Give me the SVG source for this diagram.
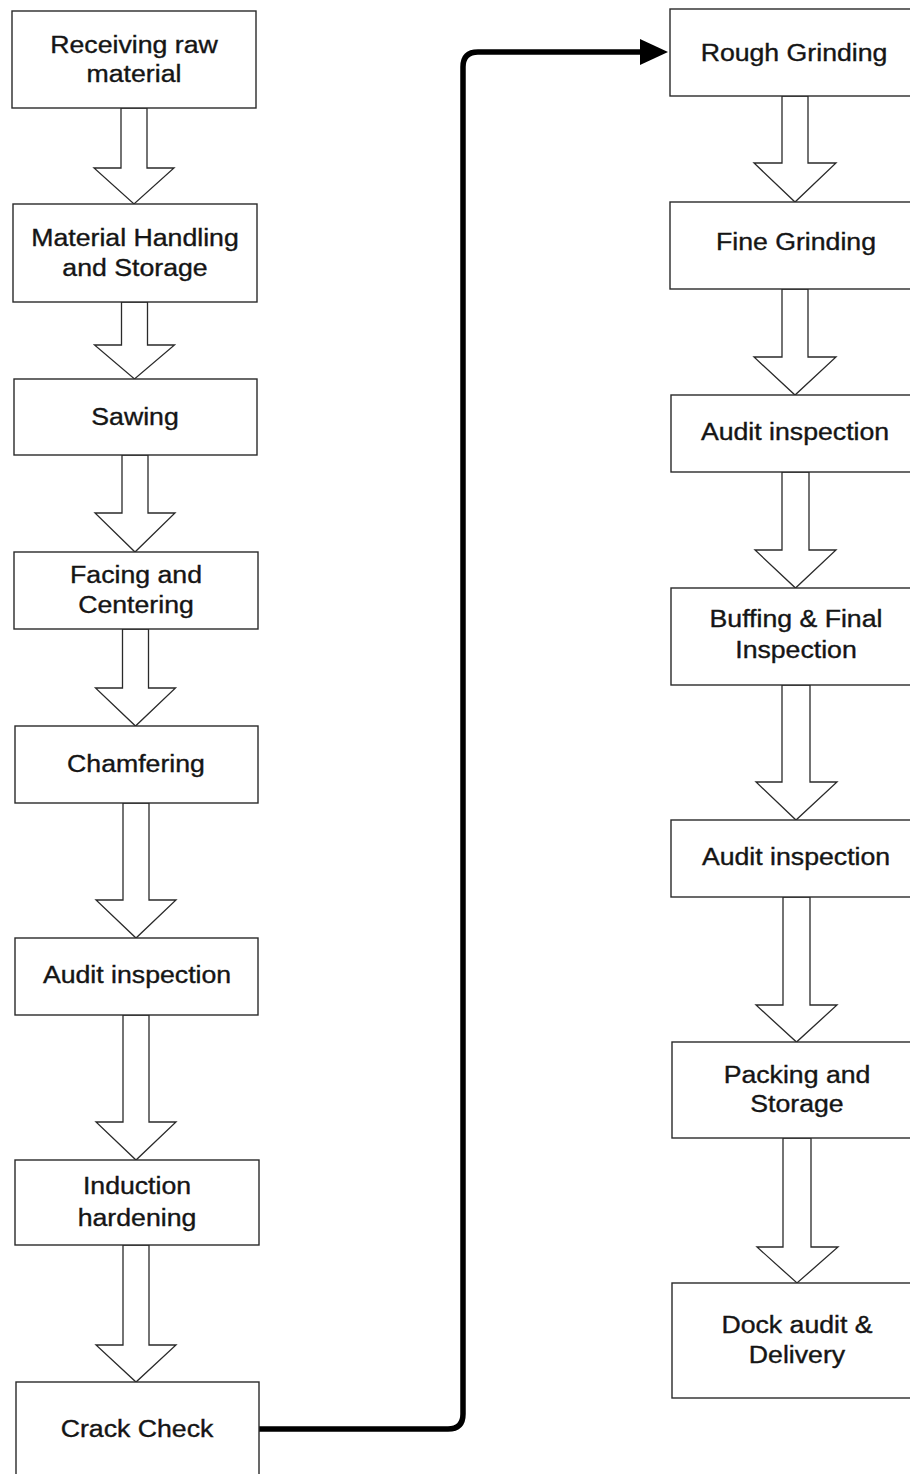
<svg xmlns="http://www.w3.org/2000/svg" width="910" height="1474" viewBox="0 0 910 1474">
<style>
.box{fill:#ffffff;stroke:#2a2a2a;stroke-width:1.4}
.blk{fill:#ffffff;stroke:#2a2a2a;stroke-width:1.3;stroke-linejoin:miter}
.t{font-family:"Liberation Sans",Arial,sans-serif;font-size:23px;fill:#151515;stroke:#151515;stroke-width:0.35;text-anchor:middle}
.conn{fill:none;stroke:#000;stroke-width:5.5}
</style>
<defs>
<marker id="ah" viewBox="0 0 28 26" refX="2" refY="13" markerWidth="28" markerHeight="26" markerUnits="userSpaceOnUse" orient="auto">
<path d="M0,0 L28,13 L0,26 z" fill="#000"/>
</marker>
</defs>
<rect width="910" height="1474" fill="#ffffff"/>

<g id="connectors">
<polygon class="blk" points="121,108 147,108 147,168 174,168 134,204 94,168 121,168"/>
<polygon class="blk" points="121.5,302 147.5,302 147.5,345 174.5,345 134.5,379 94.5,345 121.5,345"/>
<polygon class="blk" points="122,455 148,455 148,513 175,513 135,552 95,513 122,513"/>
<polygon class="blk" points="122.5,629 148.5,629 148.5,688 175.5,688 135.5,726 95.5,688 122.5,688"/>
<polygon class="blk" points="123,803 149,803 149,900 176,900 136,938 96,900 123,900"/>
<polygon class="blk" points="123,1015 149,1015 149,1122 176,1122 136,1160 96,1122 123,1122"/>
<polygon class="blk" points="123,1245 149,1245 149,1345 176,1345 136,1382 96,1345 123,1345"/>

<polygon class="blk" points="782,96 808,96 808,163 836,163 795,202 754,163 782,163"/>
<polygon class="blk" points="782,289 808,289 808,357 836,357 795,395 754,357 782,357"/>
<polygon class="blk" points="782,472 809,472 809,550 836,550 795.5,588 755,550 782,550"/>
<polygon class="blk" points="782,685 810,685 810,782 837,782 796,820 756,782 782,782"/>
<polygon class="blk" points="783,897 810,897 810,1005 837,1005 796.5,1042 756,1005 783,1005"/>
<polygon class="blk" points="783,1138 811,1138 811,1247 838,1247 797,1283 757,1247 783,1247"/>

<path class="conn" d="M259,1429 H448 Q463,1429 463,1414 V67 Q463,52 478,52 H642" marker-end="url(#ah)"/>
</g>

<g id="n1"><rect class="box" x="12" y="11" width="244" height="97"/>
<text class="t" transform="translate(134,53) scale(1.16,1)">Receiving raw</text>
<text class="t" transform="translate(134,82) scale(1.16,1)">material</text></g>
<g id="n2"><rect class="box" x="13" y="204" width="244" height="98"/>
<text class="t" transform="translate(135,246) scale(1.16,1)">Material Handling</text>
<text class="t" transform="translate(135,276) scale(1.16,1)">and Storage</text></g>
<g id="n3"><rect class="box" x="14" y="379" width="243" height="76"/>
<text class="t" transform="translate(135,425) scale(1.16,1)">Sawing</text></g>
<g id="n4"><rect class="box" x="14" y="552" width="244" height="77"/>
<text class="t" transform="translate(136,583) scale(1.16,1)">Facing and</text>
<text class="t" transform="translate(136,613) scale(1.16,1)">Centering</text></g>
<g id="n5"><rect class="box" x="15" y="726" width="243" height="77"/>
<text class="t" transform="translate(136,772) scale(1.16,1)">Chamfering</text></g>
<g id="n6"><rect class="box" x="15" y="938" width="243" height="77"/>
<text class="t" transform="translate(137,983) scale(1.16,1)">Audit inspection</text></g>
<g id="n7"><rect class="box" x="15" y="1160" width="244" height="85"/>
<text class="t" transform="translate(137,1194) scale(1.16,1)">Induction</text>
<text class="t" transform="translate(137,1226) scale(1.16,1)">hardening</text></g>
<g id="n8"><rect class="box" x="16" y="1382" width="243" height="100"/>
<text class="t" transform="translate(137,1437) scale(1.16,1)">Crack Check</text></g>

<g id="n9"><rect class="box" x="670" y="9" width="250" height="87"/>
<text class="t" transform="translate(794,61) scale(1.16,1)">Rough Grinding</text></g>
<g id="n10"><rect class="box" x="670" y="202" width="250" height="87"/>
<text class="t" transform="translate(796,250) scale(1.16,1)">Fine Grinding</text></g>
<g id="n11"><rect class="box" x="671" y="395" width="250" height="77"/>
<text class="t" transform="translate(795,440) scale(1.16,1)">Audit inspection</text></g>
<g id="n12"><rect class="box" x="671" y="588" width="250" height="97"/>
<text class="t" transform="translate(796,627) scale(1.16,1)">Buffing &amp; Final</text>
<text class="t" transform="translate(796,658) scale(1.16,1)">Inspection</text></g>
<g id="n13"><rect class="box" x="671" y="820" width="250" height="77"/>
<text class="t" transform="translate(796,865) scale(1.16,1)">Audit inspection</text></g>
<g id="n14"><rect class="box" x="672" y="1042" width="250" height="96"/>
<text class="t" transform="translate(797,1083) scale(1.16,1)">Packing and</text>
<text class="t" transform="translate(797,1112) scale(1.16,1)">Storage</text></g>
<g id="n15"><rect class="box" x="672" y="1283" width="250" height="115"/>
<text class="t" transform="translate(797,1333) scale(1.16,1)">Dock audit &amp;</text>
<text class="t" transform="translate(797,1363) scale(1.16,1)">Delivery</text></g>
</svg>
